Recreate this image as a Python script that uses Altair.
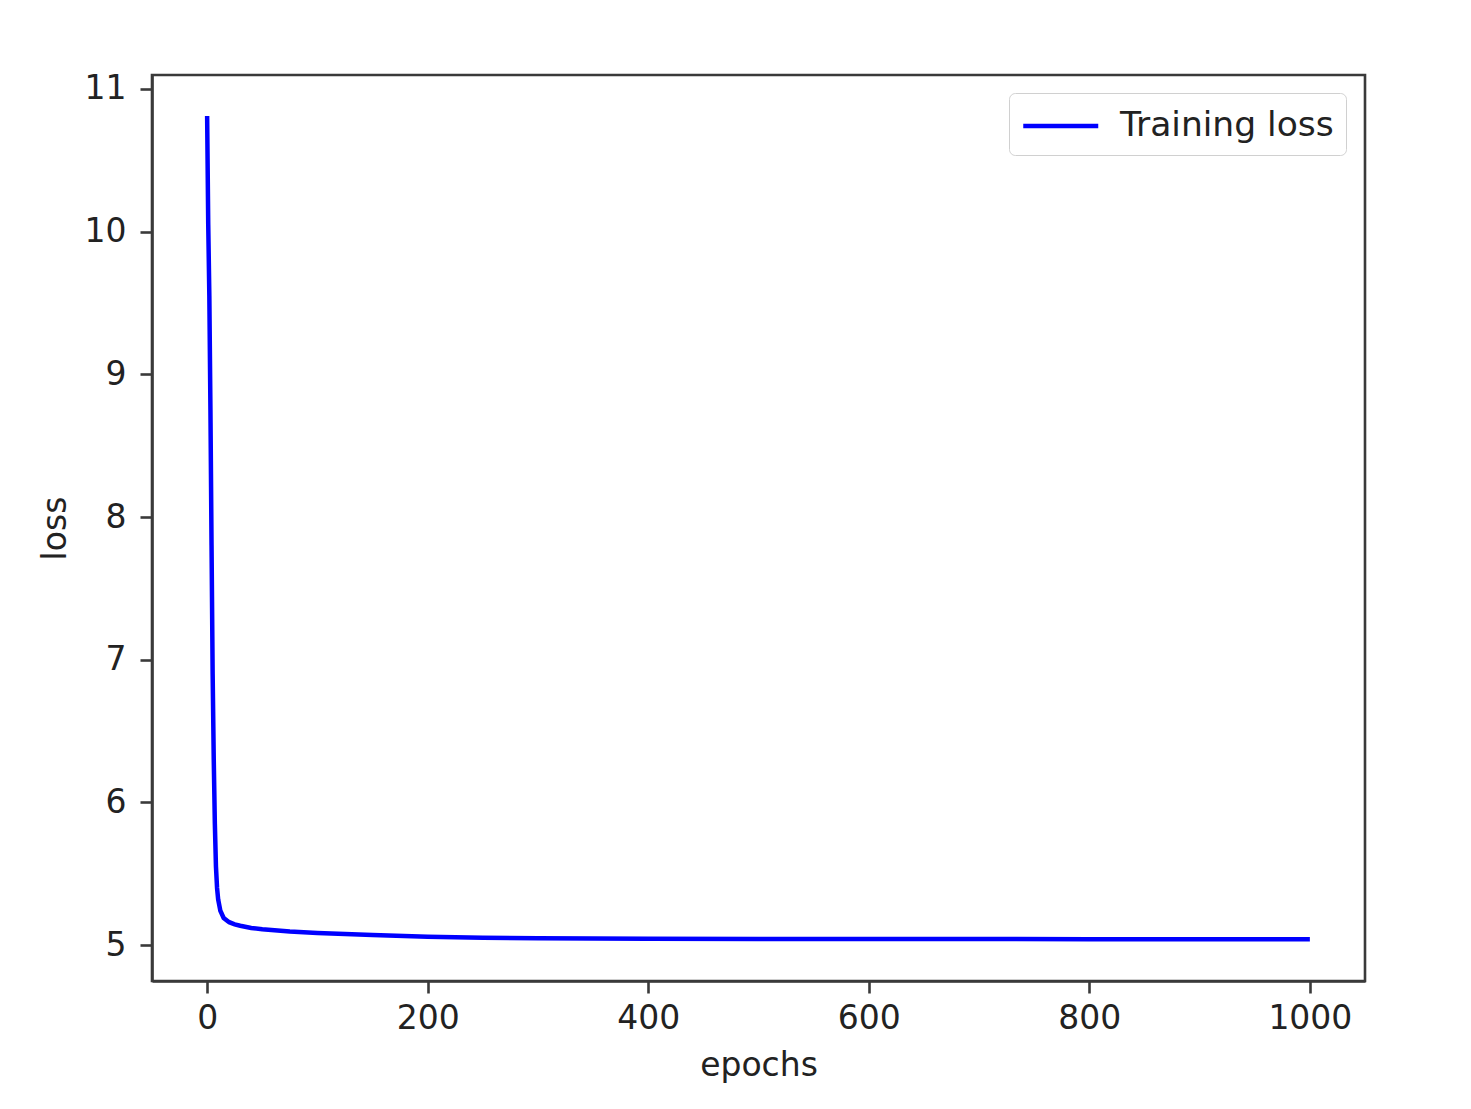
import altair as alt
import pandas as pd

epochs = [0, 1, 2, 3, 4, 5, 6, 7, 8, 9, 10, 12, 15, 20, 25, 30, 40, 50, 75, 100,
          150, 200, 250, 300, 400, 500, 600, 700, 800, 900, 1000]
loss = [10.81, 10.05, 9.55, 8.75, 7.8, 6.9, 6.3, 5.85, 5.55, 5.4, 5.32, 5.24, 5.19, 5.16, 5.145,
        5.135, 5.12, 5.11, 5.095, 5.085, 5.07, 5.058, 5.052, 5.048, 5.045, 5.043, 5.042,
        5.042, 5.041, 5.041, 5.041]
series = ["Training loss"] * len(epochs)
y_ticks = [5, 6, 7, 8, 9, 10, 11]
x_ticks = [0, 200, 400, 600, 800, 1000]

df = pd.DataFrame({"epochs": epochs, "loss": loss, "series": series})

FONT = "DejaVu Sans"
FS = 33

chart = alt.Chart(df).mark_line(strokeWidth=4.5).encode(
    x=alt.X("epochs:Q",
            scale=alt.Scale(domain=[-50, 1050], nice=False, zero=False),
            axis=alt.Axis(values=x_ticks, title="epochs", grid=False, tickSize=12,
                          labelPadding=9, titlePadding=14, format="d")),
    y=alt.Y("loss:Q",
            scale=alt.Scale(domain=[4.748, 11.098], nice=False, zero=False),
            axis=alt.Axis(values=y_ticks, title="loss", grid=False, tickSize=12,
                          labelPadding=14, titlePadding=12, format="d")),
    color=alt.Color("series:N",
                    scale=alt.Scale(domain=["Training loss"], range=["#0000ff"]),
                    legend=alt.Legend(title=None, orient="none", legendX=857, legendY=18,
                                      symbolType="M-1,0H3", symbolSize=1406,
                                      symbolStrokeWidth=4.5, labelFontSize=34.5,
                                      labelFont=FONT, labelColor="#222",
                                      labelLimit=0, labelOffset=57, padding=12,
                                      cornerRadius=6,
                                      strokeColor="#d0d0d0", fillColor="white")),
).properties(
    width=1213, height=906,
    autosize="none",
    background="white",
    padding={"left": 144, "top": 67, "right": 90, "bottom": 120},
).configure_view(
    stroke="#3a3a3a", strokeWidth=2.6
).configure_axis(
    labelFont=FONT, titleFont=FONT, labelFontSize=FS, titleFontSize=FS,
    labelColor="#222", titleColor="#222", titleFontWeight="normal",
    domainColor="#3a3a3a", domainWidth=2.6, tickColor="#3a3a3a", tickWidth=2.6
)

chart.save("out.html", embed_options={"renderer": "svg", "actions": False})
